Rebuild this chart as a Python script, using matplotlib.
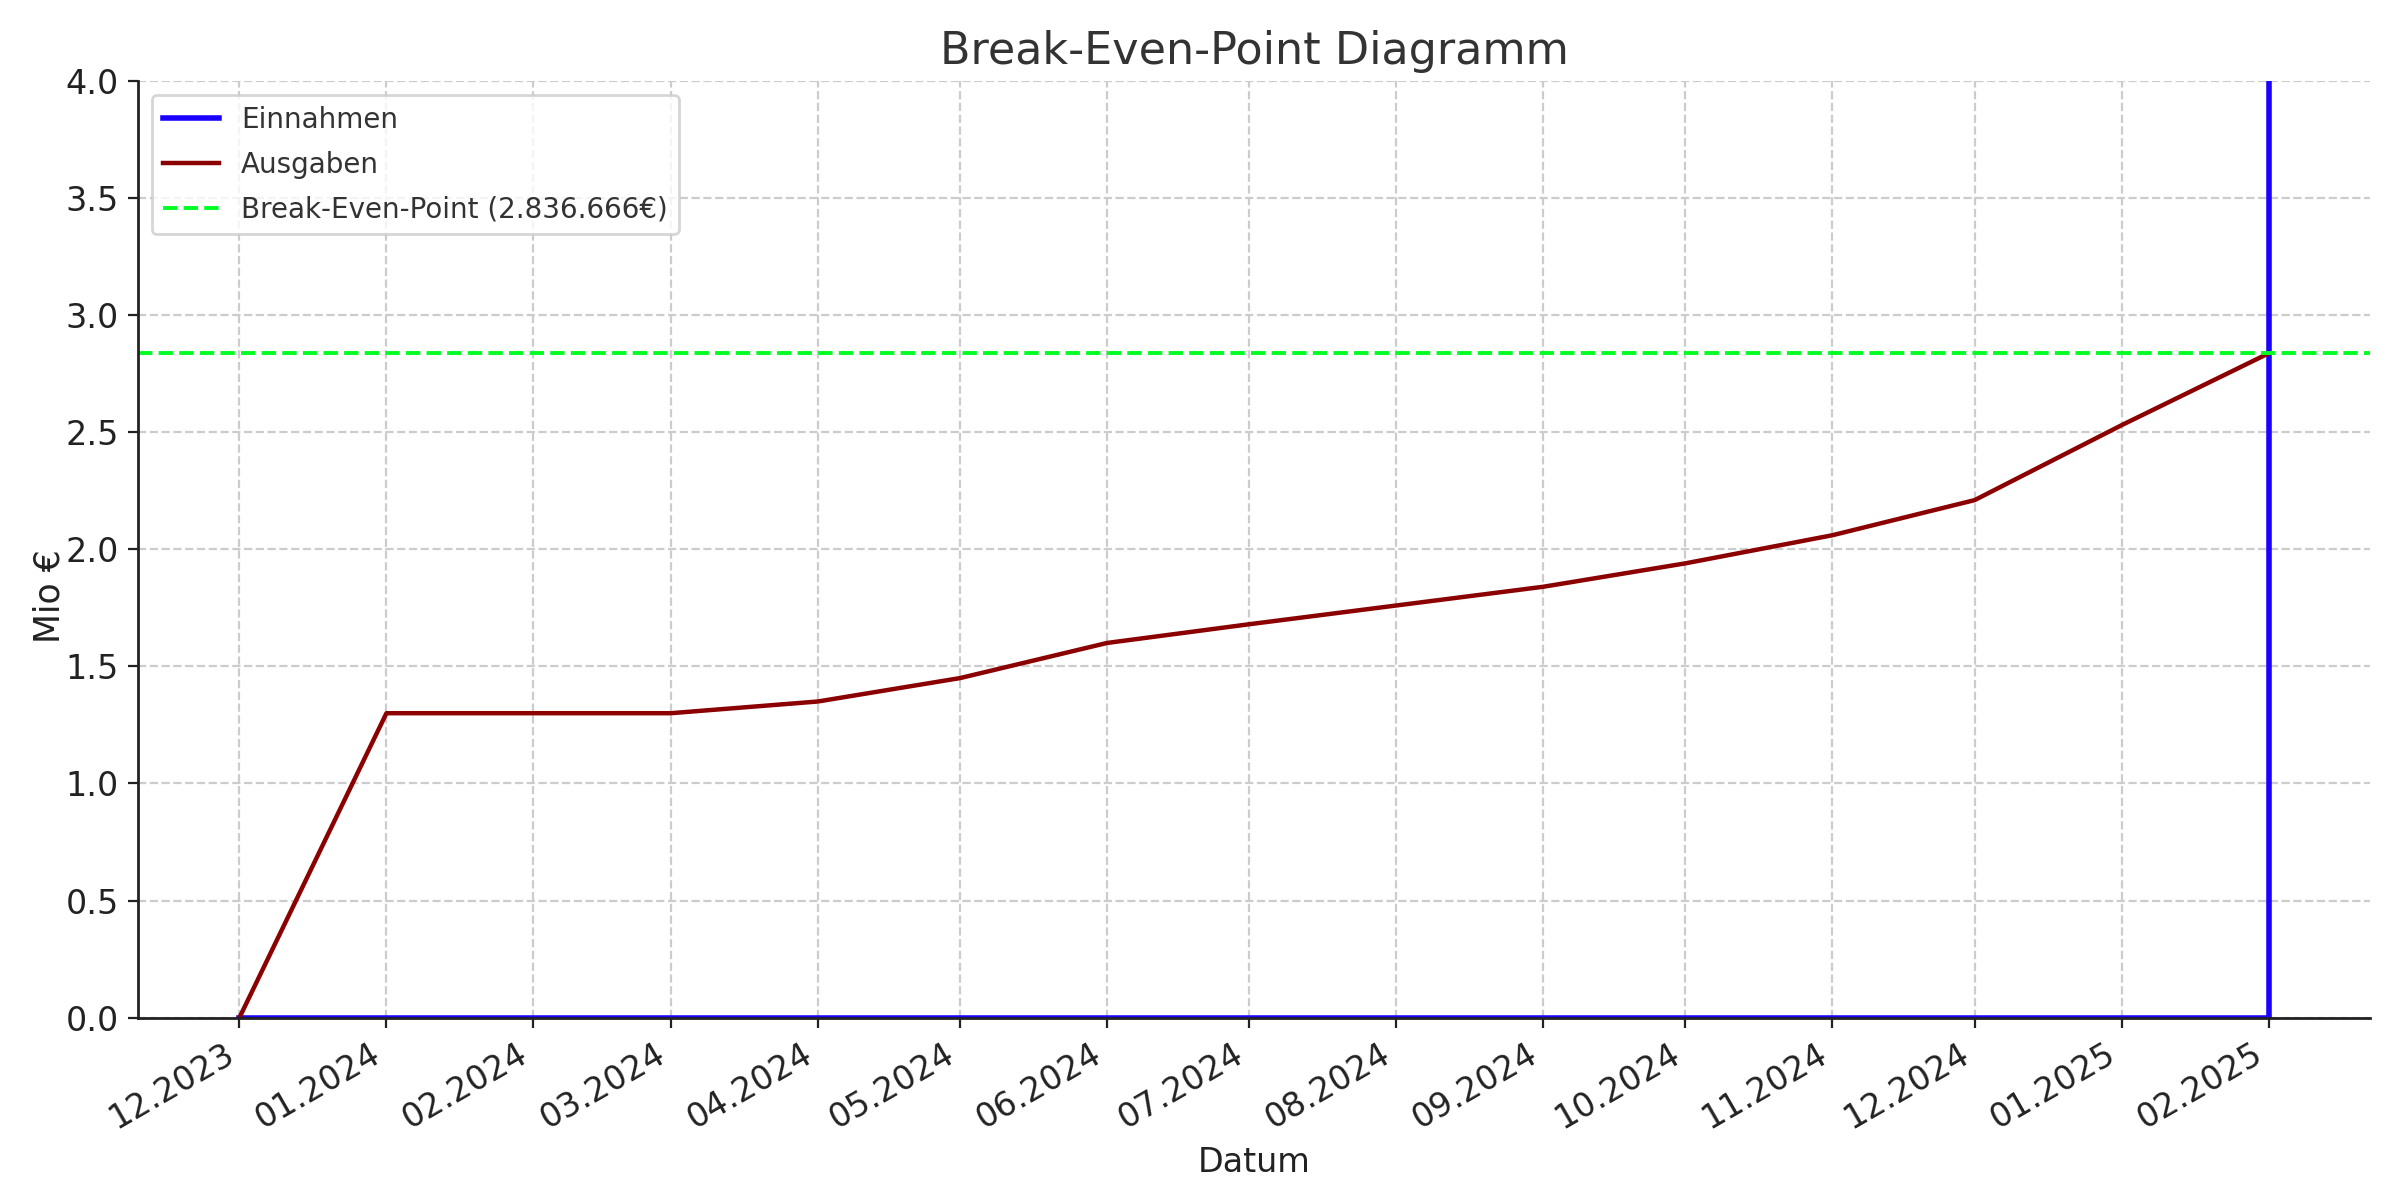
import numpy as np
import pandas as pd
import matplotlib
matplotlib.use("Agg")
import matplotlib.pyplot as plt
import matplotlib.dates as mdates

# Monatswerte in Mio €
monate = ["2023-12-01", "2024-01-01", "2024-02-01", "2024-03-01", "2024-04-01",
          "2024-05-01", "2024-06-01", "2024-07-01", "2024-08-01", "2024-09-01",
          "2024-10-01", "2024-11-01", "2024-12-01", "2025-01-01", "2025-02-01"]
ausgaben = [0.0, 1.30, 1.30, 1.30, 1.35, 1.45, 1.60, 1.68, 1.76, 1.84,
            1.94, 2.06, 2.21, 2.53, 2.836666]

# Einnahmen: bis Februar 2025 null, dann Sprung (über die Skala hinaus)
einnahmen_daten = monate + ["2025-02-01"]
einnahmen = [0.0] * len(monate) + [10.0]

break_even = 2.836666
break_even_label = "Break-Even-Point (2.836.666€)"

dx = pd.to_datetime(monate)
dx_ein = pd.to_datetime(einnahmen_daten)

plt.rcParams['font.family'] = ['DejaVu Sans']
text_col = '#333333'

fig, ax = plt.subplots(figsize=(12, 6), dpi=200)
fig.subplots_adjust(left=0.0575, right=0.9875, bottom=0.152, top=0.9325)

ax.plot(dx_ein, einnahmen, color='#1a00ff', lw=2, label='Einnahmen')
ax.plot(dx, ausgaben, color='#8b0000', lw=1.6, label='Ausgaben')
ax.axhline(break_even, color='#00ff22', lw=1.4, ls='--', label=break_even_label)

ax.set_ylim(0, 4)
ax.set_yticks(np.arange(0, 4.01, 0.5))
ax.margins(x=0.05)

ax.xaxis.set_major_locator(mdates.MonthLocator())
ax.xaxis.set_major_formatter(mdates.DateFormatter('%m.%Y'))
plt.setp(ax.get_xticklabels(), rotation=30, ha='right')

ax.grid(True, ls='--', color='#cccccc', lw=0.8)
ax.set_axisbelow(True)
ax.spines['top'].set_visible(False)
ax.spines['right'].set_visible(False)
for s in ['left', 'bottom']:
    ax.spines[s].set_linewidth(1.0)
    ax.spines[s].set_color('#222222')

ax.tick_params(labelsize=12, colors='#222222')
ax.set_title('Break-Even-Point Diagramm', fontsize=16, color=text_col)
ax.set_xlabel('Datum', fontsize=12, color='#222222')
ax.set_ylabel('Mio €', fontsize=12.5, color='#222222')
ax.yaxis.set_label_coords(-0.032, 0.45)

leg = ax.legend(loc='upper left', fontsize=10, frameon=True, fancybox=True,
                labelspacing=0.6)
leg.get_frame().set_edgecolor('#cccccc')
for t in leg.get_texts():
    t.set_color(text_col)

fig.savefig('out.png', dpi=200)
